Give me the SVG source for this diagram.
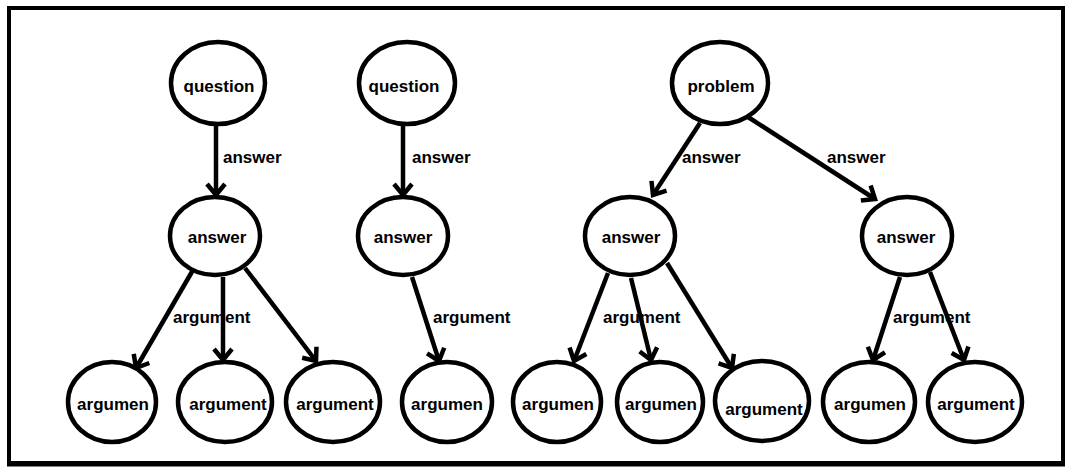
<svg xmlns="http://www.w3.org/2000/svg" width="1067" height="468" viewBox="0 0 1067 468">
<style>
.node ellipse{fill:#fff;stroke:#000;stroke-width:4.5}
.node text{font-family:"Liberation Sans",Arial,sans-serif;font-weight:bold;font-size:17px;fill:#000;text-anchor:middle}
.lbl{font-family:"Liberation Sans",Arial,sans-serif;font-weight:bold;font-size:17px;fill:#000}
.edge{stroke:#000;stroke-width:4.5;fill:none;marker-end:url(#arr)}
</style>
<defs>
<marker id="arr" markerUnits="userSpaceOnUse" viewBox="-16 -12 20 24" markerWidth="20" markerHeight="24" refX="0" refY="0" orient="auto" overflow="visible">
<path d="M-11,-9 L0,0 L-11,9" fill="none" stroke="#000" stroke-width="4.5" stroke-linejoin="miter"/>
</marker>
</defs>
<rect x="0" y="0" width="1067" height="468" fill="#fff"/>
<rect x="9" y="8" width="1054" height="455" fill="#fff" stroke="#000" stroke-width="4"/>
<line x1="7" y1="464" x2="1065" y2="464" stroke="#000" stroke-width="5"/>

<g id="labels">
<text class="lbl" x="223" y="163">answer</text>
<text class="lbl" x="173" y="323">argument</text>
<text class="lbl" x="412" y="163">answer</text>
<text class="lbl" x="433" y="323">argument</text>
<text class="lbl" x="682" y="163">answer</text>
<text class="lbl" x="827" y="163">answer</text>
<text class="lbl" x="603" y="323">argument</text>
<text class="lbl" x="893" y="323">argument</text>
</g>

<g id="connectors">
<line class="edge" x1="216" y1="125" x2="216" y2="195"/>
<line class="edge" x1="193" y1="270" x2="136" y2="368"/>
<line class="edge" x1="223" y1="277" x2="223" y2="360"/>
<line class="edge" x1="245" y1="268" x2="316" y2="361"/>
<line class="edge" x1="403" y1="125" x2="403" y2="195"/>
<line class="edge" x1="412" y1="277" x2="439" y2="361"/>
<line class="edge" x1="700" y1="123" x2="653" y2="195"/>
<line class="edge" x1="748" y1="117" x2="875" y2="199"/>
<line class="edge" x1="608" y1="273" x2="574" y2="361"/>
<line class="edge" x1="631" y1="278" x2="651" y2="360"/>
<line class="edge" x1="667" y1="263" x2="732" y2="368"/>
<line class="edge" x1="900" y1="277" x2="873" y2="360"/>
<line class="edge" x1="930" y1="272" x2="964" y2="360"/>
</g>

<g id="q1" class="node"><ellipse cx="218" cy="83" rx="47" ry="41"/><text x="219" y="92">question</text></g>
<g id="a1" class="node"><ellipse cx="215" cy="236" rx="45" ry="39"/><text x="217" y="243">answer</text></g>
<g id="g1a" class="node"><ellipse cx="112" cy="402" rx="44" ry="40"/><text x="113" y="410">argumen</text></g>
<g id="g1b" class="node"><ellipse cx="225" cy="402" rx="47" ry="40"/><text x="228" y="410">argument</text></g>
<g id="g1c" class="node"><ellipse cx="333" cy="402" rx="47" ry="40"/><text x="335" y="410">argument</text></g>

<g id="q2" class="node"><ellipse cx="407" cy="83" rx="48" ry="41"/><text x="404" y="92">question</text></g>
<g id="a2" class="node"><ellipse cx="403" cy="236" rx="45" ry="39"/><text x="403" y="243">answer</text></g>
<g id="g2a" class="node"><ellipse cx="447" cy="402" rx="45" ry="40"/><text x="447" y="410">argumen</text></g>

<g id="p3" class="node"><ellipse cx="720" cy="83" rx="48" ry="41"/><text x="721" y="92">problem</text></g>
<g id="a3a" class="node"><ellipse cx="630" cy="236" rx="45" ry="39"/><text x="631" y="243">answer</text></g>
<g id="a3b" class="node"><ellipse cx="907" cy="236" rx="45" ry="39"/><text x="906" y="243">answer</text></g>
<g id="g3a" class="node"><ellipse cx="557" cy="402" rx="44" ry="40"/><text x="558" y="410">argumen</text></g>
<g id="g3b" class="node"><ellipse cx="660" cy="402" rx="43" ry="40"/><text x="661" y="410">argumen</text></g>
<g id="g3c" class="node"><ellipse cx="762" cy="401" rx="47" ry="40"/><text x="764" y="415">argument</text></g>
<g id="g3d" class="node"><ellipse cx="869" cy="402" rx="46" ry="40"/><text x="870" y="410">argumen</text></g>
<g id="g3e" class="node"><ellipse cx="975" cy="402" rx="47" ry="40"/><text x="976" y="410">argument</text></g>
</svg>
